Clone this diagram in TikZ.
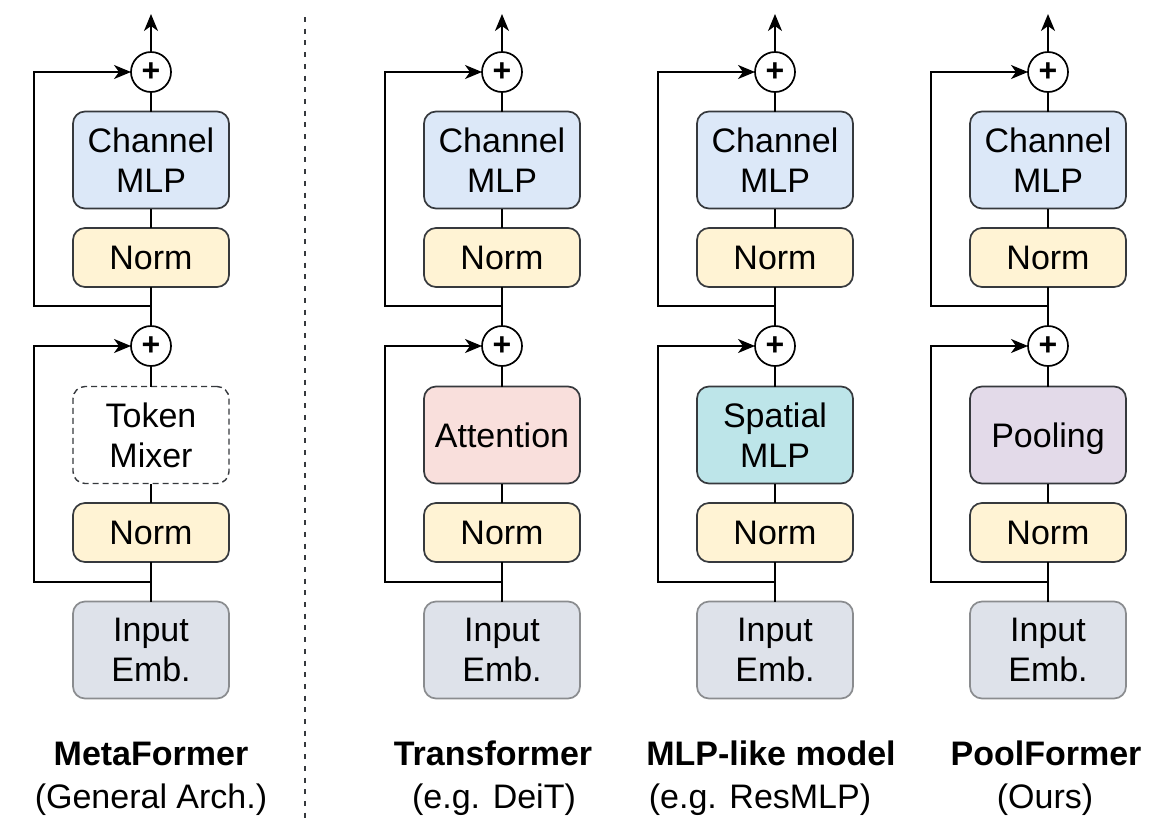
\documentclass[tikz,border=0pt]{standalone}
\usepackage{fontspec}
\setmainfont{Liberation Sans}
\usetikzlibrary{arrows.meta}
\definecolor{strk}{HTML}{36393D}
\definecolor{mlpfill}{HTML}{DCE8F8}
\definecolor{normfill}{HTML}{FFF3D4}
\definecolor{attnfill}{HTML}{F9DFDC}
\definecolor{spatfill}{HTML}{BDE5E9}
\definecolor{poolfill}{HTML}{E3DAE9}
\definecolor{inpfill}{HTML}{DEE2EA}
\definecolor{inpstroke}{HTML}{8A8C8F}
\tikzset{
  blk/.style={draw=strk, line width=1.7pt, rounded corners=12pt, minimum width=156pt,
    inner sep=0pt, outer sep=0pt, align=center, font=\fontsize{34}{40}\selectfont, text=black},
  tallbox/.style={blk, minimum height=97pt},
  shortbox/.style={blk, minimum height=59pt},
  plusnode/.style={circle, draw=black, line width=1.7pt, minimum size=40pt, inner sep=0pt,
    outer sep=0pt, fill=white, font=\fontsize{32}{32}\selectfont\bfseries},
  ln/.style={draw=black, line width=1.8pt},
  arr/.style={-{Stealth[length=17pt,width=14pt,inset=5pt]}},
  ttl/.style={anchor=base, font=\fontsize{34}{40}\selectfont\bfseries},
  sub/.style={anchor=base, font=\fontsize{34}{40}\selectfont},
}
\newcommand\mfcol[4]{%
  \node[tallbox, fill=inpfill, draw=inpstroke] (#1inp) at (#2,650) {Input\\Emb.};
  \node[shortbox, fill=normfill] (#1na) at (#2,532.5) {Norm};
  \node[tallbox, #3] (#1mix) at (#2,435) {#4};
  \node[plusnode] (#1pa) at (#2,346) {+};
  \node[shortbox, fill=normfill] (#1nb) at (#2,257.5) {Norm};
  \node[tallbox, fill=mlpfill] (#1mlp) at (#2,160) {Channel\\MLP};
  \node[plusnode] (#1pb) at (#2,72) {+};
  \coordinate (#1out) at (#2,14);
  \coordinate (#1ba) at (#2,582);
  \coordinate (#1bb) at (#2,306);
  \draw[ln] (#1inp) -- (#1na);
  \draw[ln] (#1na) -- (#1mix);
  \draw[ln] (#1mix) -- (#1pa);
  \draw[ln] (#1pa) -- (#1nb);
  \draw[ln] (#1nb) -- (#1mlp);
  \draw[ln] (#1mlp) -- (#1pb);
  \draw[ln, arr] (#1pb) -- (#1out);
  \draw[ln, arr] (#1ba) -- ++(-117,0) |- (#1pa.west);
  \draw[ln, arr] (#1bb) -- ++(-117,0) |- (#1pb.west);
}
\begin{document}
\begin{tikzpicture}[x=1pt, y=-1pt]
  \useasboundingbox (0,0) rectangle (1164,836);
  \mfcol{a}{151}{dashed, dash pattern=on 6pt off 4pt, draw=strk, line width=1.4pt, fill=white}{Token\\Mixer}
  \mfcol{b}{502}{fill=attnfill}{Attention}
  \mfcol{c}{775}{fill=spatfill}{Spatial\\MLP}
  \mfcol{d}{1048}{fill=poolfill, text depth=0pt}{Pooling}
  \coordinate (dv1) at (305,17);
  \coordinate (dv2) at (305,818);
  \draw[line width=1.6pt, dash pattern=on 5pt off 6.7pt, draw=strk] (dv1) -- (dv2);
  \node[ttl] (ta) at (151,765) {MetaFormer};
  \node[sub] (sa) at (151,808) {(General Arch.)};
  \node[ttl] (tb) at (493,765) {Transformer};
  \node[sub] (sb) at (494,808) {(e.g. DeiT)};
  \node[ttl] (tc) at (771,765) {MLP-like model};
  \node[sub] (sc) at (760,808) {(e.g. ResMLP)};
  \node[ttl] (td) at (1046,765) {PoolFormer};
  \node[sub] (sd) at (1045,808) {(Ours)};
\end{tikzpicture}
\end{document}
